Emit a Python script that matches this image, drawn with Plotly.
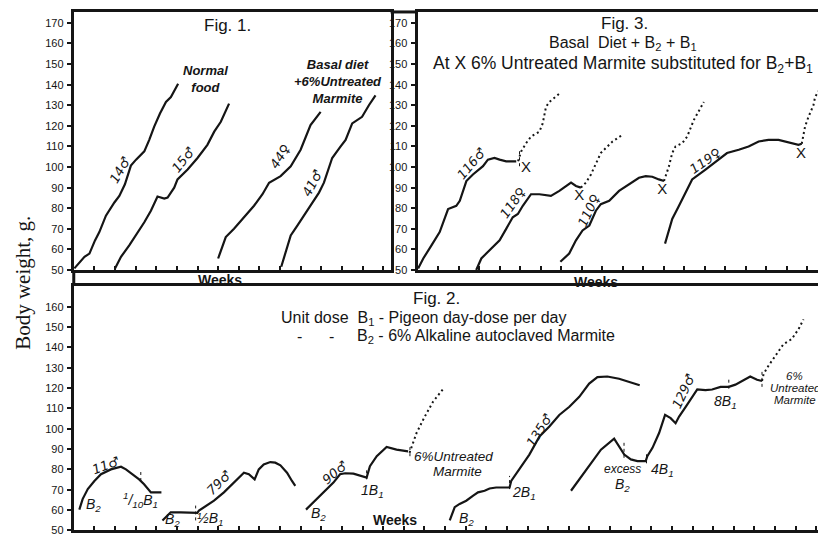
import plotly.graph_objects as go

W, H = 826, 535

# ---------------- data (weeks, body weight g) ----------------
# Fig. 1
f1_14m_x = [0.03, 0.52, 0.76, 1.03, 1.24, 1.56, 1.97, 2.21, 2.48, 2.77, 3.02, 3.42, 3.66, 3.9, 4.18, 4.47, 4.71, 5.06]
f1_14m_y = [50.8, 56.4, 58, 64.4, 68.4, 76.4, 82.8, 86, 91.6, 100.7, 103.6, 107.6, 113.2, 119.6, 126, 131.6, 134, 140.4]
f1_15m_x = [2.0, 2.29, 2.69, 3.02, 3.42, 3.74, 4.06, 4.39, 4.55, 4.87, 5.03, 5.52, 6.0, 6.48, 6.81, 7.13, 7.53]
f1_15m_y = [50.8, 56.4, 62, 66.8, 73.2, 78.8, 85.7, 84.7, 85.2, 90, 94, 98.8, 104.4, 110.8, 117.2, 122, 130.8]
f1_44f_x = [7.0, 7.13, 7.37, 7.77, 8.26, 8.74, 9.15, 9.47, 10.03, 10.52, 11.0, 11.48, 11.97]
f1_44f_y = [55.6, 59.6, 66, 70, 75.6, 81.2, 86.8, 92.4, 95.6, 100.4, 108.4, 120.4, 126.8]
f1_41m_x = [10.06, 10.27, 10.52, 10.84, 11.32, 11.89, 12.13, 12.53, 12.94, 13.18, 13.5, 13.98, 14.31, 14.63]
f1_41m_y = [51.6, 58.8, 66.8, 71.6, 78.8, 87.6, 92.4, 104.4, 110, 113.2, 121.2, 124.4, 130, 134.8]

# Fig. 3 (solid = B2+B1, dotted = untreated Marmite)
f3_116m_x = [0.03, 0.28, 0.68, 1.08, 1.49, 1.89, 2.06, 2.38, 2.7, 3.19, 3.43, 3.75, 4.0, 4.32, 4.81]
f3_116m_y = [50.8, 55.6, 62, 68.4, 79.6, 81.2, 83.6, 93.2, 96.4, 100.4, 103.6, 104.4, 103.6, 102.8, 102.8]
f3_116m_dx = [4.9, 5.05, 5.29, 5.53, 5.94, 6.1, 6.26, 6.42, 6.91]
f3_116m_dy = [102.8, 107.6, 111.6, 114.8, 117.2, 121.2, 129.2, 131.6, 135.6]
f3_118f_x = [2.86, 3.11, 3.35, 3.67, 4.0, 4.32, 4.64, 4.89, 5.13, 5.53, 5.94, 6.5, 6.91, 7.48, 7.72, 7.96]
f3_118f_y = [50, 55.6, 58, 61.2, 64.4, 70, 75.6, 77.2, 81.2, 86.8, 86.8, 86, 88.4, 92.4, 90.8, 90]
f3_118f_dx = [7.96, 8.2, 8.45, 8.69, 8.93, 9.17, 9.5, 9.98]
f3_118f_dy = [90, 92.4, 96.4, 102, 106.8, 109.2, 112.4, 115.6]
f3_110f_x = [6.96, 7.39, 7.72, 8.04, 8.37, 8.69, 8.93, 9.34, 9.82, 10.31, 10.79, 11.12, 11.44, 11.76, 12.01]
f3_110f_y = [54, 58, 64.4, 69.2, 71.6, 78.8, 82, 83.6, 88.4, 91.6, 94.8, 95.6, 95.3, 94, 93.2]
f3_110f_dx = [12.01, 12.25, 12.41, 12.57, 12.9, 13.14, 13.46, 13.95]
f3_110f_dy = [93.2, 100.4, 106.8, 110, 111.6, 114.8, 122.8, 131.6]
f3_119f_x = [12.06, 12.41, 12.74, 13.38, 14.03, 14.68, 15.08, 15.65, 16.13, 16.62, 17.1, 17.59, 18.07, 18.56, 18.72]
f3_119f_y = [62.8, 74.8, 81.2, 94, 98.8, 103.6, 106.8, 108.4, 110, 112.4, 113.2, 113.2, 111.9, 110.8, 111.3]
f3_119f_dx = [18.72, 18.88, 19.05, 19.29, 19.37, 19.61, 19.85, 20.1]
f3_119f_dy = [111.3, 119.6, 124.4, 130, 134, 138, 140.4, 142]
f3_switch_x = [5.29, 7.88, 11.93, 18.69]
f3_switch_y = [99.6, 86.0, 88.9, 106.0]
f3_marks_x = [4.97]
f3_marks_lo = [100.4]
f3_marks_hi = [108.4]

# Fig. 2
f2_11m_x = [0.27, 0.43, 0.68, 1.0, 1.32, 1.8, 2.29, 2.53, 2.85, 3.17, 3.41, 3.66, 3.74, 4.25]
f2_11m_y = [60.2, 65.4, 70.3, 74.3, 77.6, 80, 81.3, 80, 77.6, 75.1, 72.7, 69.5, 68.7, 68.7]
f2_79m_x = [4.3, 4.46, 4.7, 5.19, 5.59, 5.99, 6.07, 6.31, 6.8, 7.28, 7.76, 8.25, 8.49, 8.77, 8.97, 9.21, 9.53, 9.77, 10.02, 10.34, 10.58, 10.74]
f2_79m_y = [54.9, 56.5, 58.9, 58.9, 58.9, 58.6, 59.7, 61.4, 64.6, 68.7, 73.5, 78.4, 77.6, 75.1, 80, 82.4, 83.6, 83.3, 82, 78.4, 74.3, 71.9]
f2_90m_x = [11.26, 11.63, 12.11, 12.59, 12.91, 13.16, 13.56, 13.88, 14.2, 14.36, 14.69, 15.17, 15.65, 16.21]
f2_90m_y = [60.2, 63.8, 68.7, 73.5, 77.6, 78.1, 77.9, 76.8, 76, 81.6, 86.5, 91, 89.7, 88.9]
f2_90m_dx = [16.28, 16.62, 17.02, 17.42, 17.92]
f2_90m_dy = [88.1, 97.9, 106, 113.3, 119.7]
f2_135m_x = [18.23, 18.47, 18.71, 19.03, 19.35, 19.6, 19.92, 20.16, 20.48, 20.97, 21.13, 21.21, 21.61, 22.09, 22.58, 23.06, 23.54, 24.03, 24.51, 24.99, 25.39, 25.87, 26.44, 27.0, 27.44]
f2_135m_y = [54.9, 61.4, 63, 64.6, 67, 68.7, 69.5, 70.6, 71.1, 71.1, 71.1, 74.3, 80, 87.3, 96.2, 101.1, 106.8, 110.8, 115.7, 122.2, 125.4, 125.7, 124.6, 123, 121.4]
f2_129m_x = [24.11, 24.51, 25.0, 25.56, 26.2, 26.44, 26.69, 27.01, 27.33, 27.73, 27.81, 28.06, 28.38, 28.67, 28.94, 29.18, 29.35, 29.67, 29.99, 30.23, 30.63, 30.95, 31.36, 31.76, 32.08, 32.48, 32.8, 33.13, 33.37]
f2_129m_y = [69.5, 75.1, 81.6, 89.7, 95.1, 91.4, 87.3, 84.9, 84.1, 84.1, 86.5, 90.6, 97.9, 106.8, 105.2, 102.7, 106, 110.8, 115.7, 119.3, 119, 119.3, 120.6, 120.6, 121.7, 123.8, 125.7, 124.1, 123.5]
f2_129m_dx = [33.37, 33.45, 33.69, 34.01, 34.41, 34.81, 35.14, 35.38]
f2_129m_dy = [123.5, 127, 131.1, 136, 141.6, 144.1, 149, 153.8]
f2_marks_x = [3.25, 5.91, 14.2, 16.3, 21.13, 26.68, 27.77, 31.76, 33.37]
f2_marks_lo = [74.3, 54.9, 75.1, 86.5, 70.3, 85.7, 83.0, 119.7, 120.6]
f2_marks_hi = [78.7, 62.2, 80.0, 92.2, 76.8, 93.8, 87.5, 125.4, 128.7]

y_ticks_top = [50, 60, 70, 80, 90, 100, 110, 120, 130, 140, 150, 160, 170]
y_ticks_bot = [50, 60, 70, 80, 90, 100, 110, 120, 130, 140, 150, 160]

# ---------------- figure ----------------
INK = "#151515"
SANS = "Liberation Sans, DejaVu Sans, sans-serif"
LAB = "DejaVu Sans, sans-serif"
TICKF = "Liberation Sans Narrow, Liberation Sans, sans-serif"
DOT = "2px,3px"

fig = go.Figure()


def curve(x, y, ax, dotted=False):
    fig.add_trace(go.Scatter(
        x=x, y=y, xaxis=ax[0], yaxis=ax[1], mode="lines", showlegend=False,
        hoverinfo="skip",
        line=dict(color=INK, width=2.2 if not dotted else 2, dash=DOT if dotted else "solid")))


def marks(xs, lo, hi, ax):
    mx, my = [], []
    for a, b, c in zip(xs, lo, hi):
        mx += [a, a, None]
        my += [b, c, None]
    fig.add_trace(go.Scatter(x=mx, y=my, xaxis=ax[0], yaxis=ax[1], mode="lines",
                             showlegend=False, hoverinfo="skip",
                             line=dict(color=INK, width=1, dash="dot")))


A1 = ("x", "y")
A3 = ("x2", "y2")
A2 = ("x3", "y3")

curve(f1_14m_x, f1_14m_y, A1)
curve(f1_15m_x, f1_15m_y, A1)
curve(f1_44f_x, f1_44f_y, A1)
curve(f1_41m_x, f1_41m_y, A1)

for sx, sy, dx, dy in [(f3_116m_x, f3_116m_y, f3_116m_dx, f3_116m_dy),
                       (f3_118f_x, f3_118f_y, f3_118f_dx, f3_118f_dy),
                       (f3_110f_x, f3_110f_y, f3_110f_dx, f3_110f_dy),
                       (f3_119f_x, f3_119f_y, f3_119f_dx, f3_119f_dy)]:
    curve(sx, sy, A3)
    curve(dx, dy, A3, dotted=True)
marks(f3_marks_x, f3_marks_lo, f3_marks_hi, A3)
fig.add_trace(go.Scatter(x=f3_switch_x, y=f3_switch_y, xaxis="x2", yaxis="y2", mode="text",
                         text=["X"] * len(f3_switch_x), showlegend=False, hoverinfo="skip",
                         textfont=dict(family=SANS, size=15, color=INK)))

curve(f2_11m_x, f2_11m_y, A2)
curve(f2_79m_x, f2_79m_y, A2)
curve(f2_90m_x, f2_90m_y, A2)
curve(f2_90m_dx, f2_90m_dy, A2, dotted=True)
curve(f2_135m_x, f2_135m_y, A2)
curve(f2_129m_x, f2_129m_y, A2)
curve(f2_129m_dx, f2_129m_dy, A2, dotted=True)
marks(f2_marks_x, f2_marks_lo, f2_marks_hi, A2)


def px(x):
    return x / W


def py(y):
    return 1 - y / H


xcommon = dict(showgrid=False, zeroline=False, showline=True, linecolor=INK, linewidth=3,
               ticks="inside", ticklen=4, tickwidth=1.5, tickcolor=INK, dtick=1, tick0=0,
               showticklabels=False, mirror=True, fixedrange=True)
ycommon = dict(showgrid=False, zeroline=False, showline=True, linecolor=INK, linewidth=3,
               ticks="outside", ticklen=4, tickwidth=1.5, tickcolor=INK, mirror=True,
               tickfont=dict(family=TICKF, size=11, color=INK), ticklabelstandoff=1,
               ticklabeloverflow="allow", fixedrange=True)

WK = 20.7  # pixels per week
top_dom = [py(265), py(4)]
bot_dom = [py(528.3), py(281)]

fig.update_layout(
    width=W, height=H, margin=dict(l=0, r=0, t=0, b=0),
    paper_bgcolor="white", plot_bgcolor="rgba(0,0,0,0)", showlegend=False,
    xaxis=dict(domain=[px(66), px(384)], range=[0, (384 - 66) / WK], anchor="y", **xcommon),
    yaxis=dict(domain=top_dom, range=[50, 175.3], tickvals=y_ticks_top, anchor="x", **ycommon),
    xaxis2=dict(domain=[px(411), 1.0], range=[0, (826 - 411) / 20.6], anchor="y2", **xcommon),
    yaxis2=dict(domain=top_dom, range=[50, 175.3], tickvals=y_ticks_top, anchor="x2", **ycommon),
    xaxis3=dict(domain=[px(66), px(824)], range=[0, (824 - 66) / WK], anchor="y3", **xcommon),
    yaxis3=dict(domain=bot_dom, range=[50, 170.3], tickvals=y_ticks_bot, anchor="x3", **ycommon),
)

# connecting frame lines
fig.add_shape(type="line", xref="paper", yref="paper", x0=px(66), x1=px(66), y0=py(265), y1=py(281),
              line=dict(color=INK, width=3))
fig.add_shape(type="line", xref="paper", yref="paper", x0=px(384), x1=px(411), y0=py(4), y1=py(4),
              line=dict(color=INK, width=3))


def txt(x, y, s, size=14, family=SANS, angle=0, italic=False, bold=False, align="center",
        xanchor="center"):
    if italic:
        s = "<i>" + s + "</i>"
    if bold:
        s = "<b>" + s + "</b>"
    fig.add_annotation(x=px(x), y=py(y), xref="paper", yref="paper", text=s, showarrow=False,
                       textangle=angle, align=align, xanchor=xanchor, yanchor="middle",
                       font=dict(family=family, size=size, color=INK))


def lab(x, y, s, angle):
    txt(x, y, s, size=13, family=LAB, angle=angle, italic=True)


# axis title
txt(15, 278, "Body weight, g.", size=21, family="Liberation Serif, DejaVu Serif, serif", angle=-90)

# Fig. 1 texts
txt(220, 18, "Fig. 1.", size=17)
txt(198, 72, "Normal<br>food", size=13, italic=True, bold=True)
txt(331, 74, "Basal diet<br>+6%Untreated<br>Marmite", size=13, italic=True, bold=True)
lab(112, 164, "14♂", -60)
lab(176, 153, "15♂", -52)
lab(273, 150, "44♀", -58)
lab(305, 177, "41♂", -62)
txt(213, 275, "Weeks", size=14, bold=True)

# Fig. 3 texts
txt(619, 16, "Fig. 3.", size=17)
txt(617, 36, "Basal  Diet + B<sub>2</sub> + B<sub>1</sub>", size=16)
txt(617, 57, "At X 6% Untreated Marmite substituted for B<sub>2</sub>+B<sub>1</sub>", size=17.5)
lab(465, 157, "116♂", -50)
lab(507, 197, "118♀", -55)
lab(583, 205, "110♀", -65)
lab(700, 154, "119♀", -35)
txt(590, 277, "Weeks", size=14, bold=True)

# Fig. 2 texts
txt(430, 294, "Fig. 2.", size=17)
txt(272, 314, "Unit dose  B<sub>1</sub> - Pigeon day-dose per day", size=16, xanchor="left")
txt(293, 332, "-", size=16)
txt(325, 332, "-", size=16)
txt(348, 332, "B<sub>2</sub> - 6% Alkaline autoclaved Marmite", size=16, xanchor="left")
lab(98, 463, "11♂", -20)
txt(86, 503, "B<sub>2</sub>", size=14, italic=True)
txt(133, 498, "<sup>1</sup>/<sub>10</sub>B<sub>1</sub>", size=14, italic=True)
lab(212, 480, "79♂", -45)
txt(165, 518, "B<sub>2</sub>", size=14, italic=True)
txt(203, 517, "½B<sub>1</sub>", size=14, italic=True)
lab(328, 470, "90♂", -40)
txt(312, 512, "B<sub>2</sub>", size=14, italic=True)
txt(366, 488, "1B<sub>1</sub>", size=14, italic=True)
txt(447, 454, "6%Untreated", size=13.5, italic=True)
txt(451, 469, "Marmite", size=13.5, italic=True)
txt(388, 518, "Weeks", size=14, bold=True)
lab(533, 427, "135♂", -58)
txt(460, 517, "B<sub>2</sub>", size=14, italic=True)
txt(518, 491, "2B<sub>1</sub>", size=14, italic=True)
txt(617, 466, "excess", size=12, italic=True)
txt(617, 482, "B<sub>2</sub>", size=14, italic=True)
txt(657, 467, "4B<sub>1</sub>", size=14, italic=True)
lab(678, 388, "129♂", -65)
txt(720, 398, "8B<sub>1</sub>", size=14, italic=True)
txt(789, 372, "6%", size=11.5, italic=True)
txt(790, 384, "Untreated", size=11.5, italic=True)
txt(790, 396, "Marmite", size=11.5, italic=True)

fig.write_html("out.html")
